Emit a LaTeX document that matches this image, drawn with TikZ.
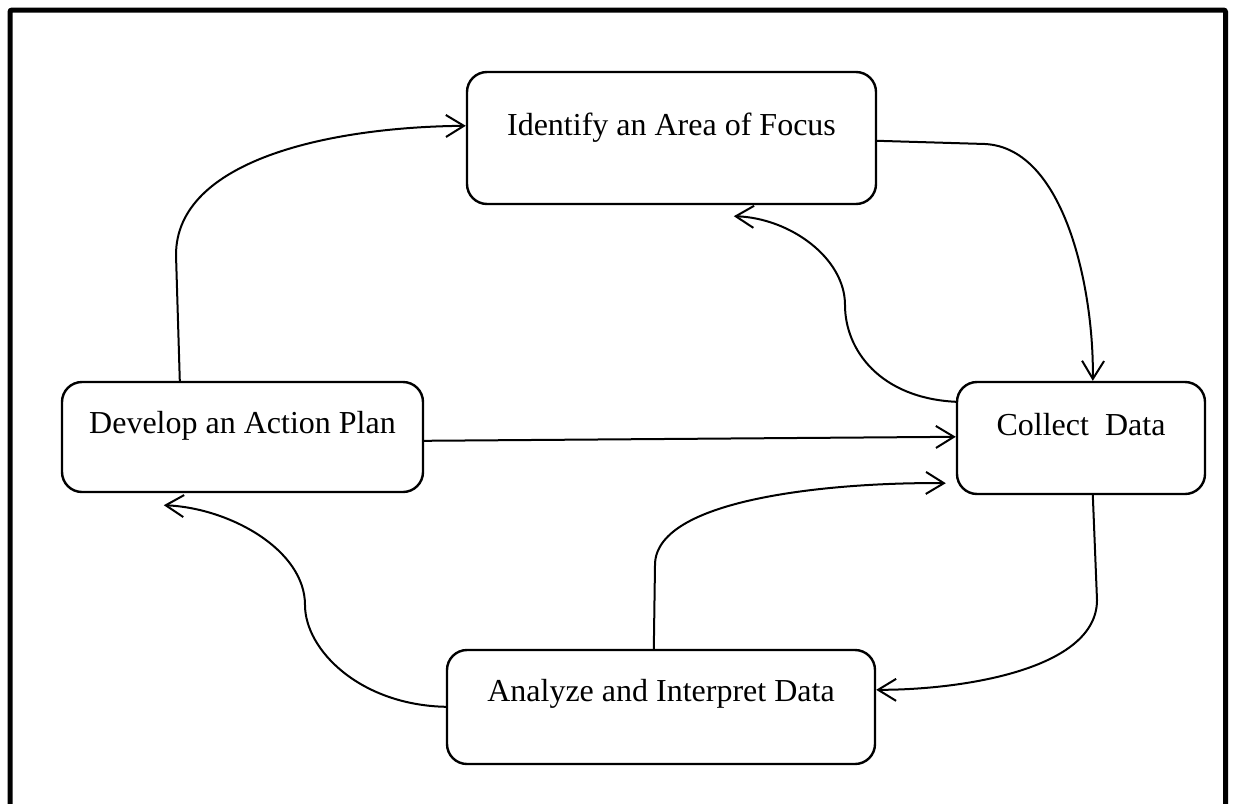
\documentclass[tikz,border=0pt]{standalone}
\usepackage{fontspec}
\setmainfont{Liberation Serif}
\usetikzlibrary{arrows.meta,calc}

\tikzset{
  stepbox/.style={draw, line width=2.4pt, rounded corners=20pt, inner sep=0pt},
  steptext/.style={anchor=base, inner sep=0pt, font=\fontsize{32}{38}\selectfont},
  flow/.style={line width=2pt, -{Straight Barb[length=18pt,width=22pt,line width=2pt]}},
}

\begin{document}
\begin{tikzpicture}[x=1pt,y=-1pt]
\useasboundingbox (0,0) rectangle (1233,803);

% outer frame, open at the bottom
\draw[line width=5pt, rounded corners=2pt] (10,810) -- (10,10) -- (1225.5,10) -- (1225.5,810);

% the four steps
\node[stepbox, minimum width=409pt, minimum height=132pt] (idf) at (671.5,138) {};
\node[stepbox, minimum width=361pt, minimum height=110pt] (dev) at (242.5,437) {};
\node[stepbox, minimum width=248pt, minimum height=112pt] (col) at (1081,438) {};
\node[stepbox, minimum width=428pt, minimum height=114pt] (ana) at (661,707) {};

\node[steptext] (idfT) at (671.5,135) {Identify an Area of Focus};
\node[steptext] (devT) at (242.5,433) {Develop an Action Plan};
\node[steptext] (colT) at (1081,435) {Collect\ \ Data};
\node[steptext] (anaT) at (661,701) {Analyze and Interpret Data};

% connectors
\draw[flow] ($(dev.north west)+(119,0)$) -- (176,255)
  .. controls (176,160) and (330,127) .. ($(idf.north west)+(0,55)$);
\draw[flow] ($(idf.north east)+(0,70)$) -- (985,144)
  .. controls (1065,148) and (1094,290) .. ($(col.north west)+(137,0)$);
\draw[flow] ($(col.north west)+(0,21)$)
  .. controls (880,398) and (845,350) .. (845,305)
  .. controls (845,258) and (790,218) .. ($(idf.south west)+(268,11)$);
\draw[flow] ($(dev.north east)+(0,60)$) -- ($(col.north west)+(0,56)$);
\draw[flow] ($(ana.north west)+(208,0)$) -- (655,565)
  .. controls (655,495) and (850,482) .. ($(col.south west)+(-10,-12)$);
\draw[flow] ($(col.south west)+(137,0)$) -- (1097,600)
  .. controls (1097,670) and (960,690) .. ($(ana.north east)+(0,41)$);
\draw[flow] ($(ana.north west)+(0,58)$)
  .. controls (360,705) and (305,650) .. (305,605)
  .. controls (305,550) and (230,508) .. ($(dev.south west)+(103,12)$);
\end{tikzpicture}
\end{document}
